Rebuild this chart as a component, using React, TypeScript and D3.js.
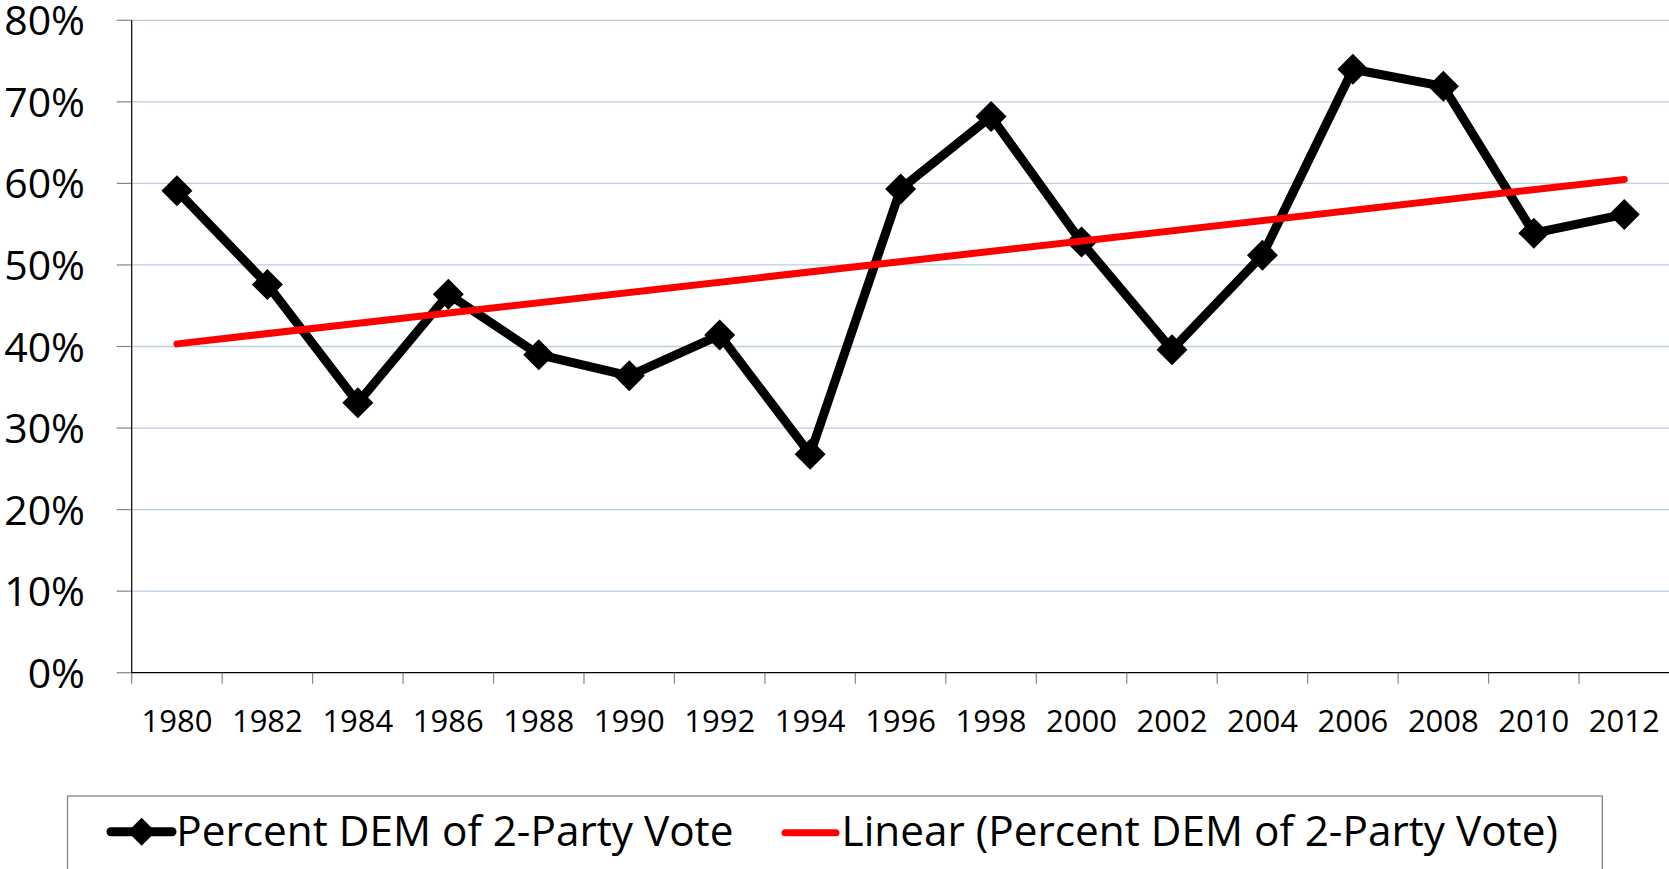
import React from "react";
import * as d3 from "d3";

const years = ["1980","1982","1984","1986","1988","1990","1992","1994","1996","1998","2000","2002","2004","2006","2008","2010","2012"];
const demShare = [59.1, 47.6, 33.1, 46.4, 39.0, 36.4, 41.4, 26.8, 59.3, 68.2, 52.8, 39.6, 51.2, 74.0, 71.9, 53.9, 56.2];
const yTicks = [0, 10, 20, 30, 40, 50, 60, 70, 80];
const seriesName = "Percent DEM of 2-Party Vote";
const trendName = "Linear (Percent DEM of 2-Party Vote)";

const W = 1669, H = 869;
const FONT = "'Open Sans', 'Noto Sans', sans-serif";

export default function App() {
  const x = d3.scaleBand<string>().domain(years).range([131.7, 1669.5]).padding(0);
  const y = d3.scaleLinear().domain([0, 80]).range([672.7, 20.3]);
  const cx = (yr: string) => (x(yr) as number) + x.bandwidth() / 2;

  // least-squares linear trend
  const idx = years.map((_, i) => i + 1);
  const mx = d3.mean(idx) as number;
  const my = d3.mean(demShare) as number;
  const sxy = d3.sum(idx, (v, i) => (v - mx) * (demShare[i] - my));
  const sxx = d3.sum(idx, (v) => (v - mx) ** 2);
  const slope = sxy / sxx;
  const intercept = my - slope * mx;
  const trendStart = intercept + slope * idx[0];
  const trendEnd = intercept + slope * idx[idx.length - 1];

  const line = d3.line<number>().x((_, i) => cx(years[i])).y((d) => y(d));
  const diamond = (px: number, py: number, r: number) =>
    `M${px},${py - r}L${px + r},${py}L${px},${py + r}L${px - r},${py}Z`;

  const x0 = 131.7;
  const y0 = y(0);

  return (
    <svg width={W} height={H} style={{ position: "absolute", left: 0, top: 0, display: "block", background: "#fff" }}
      fontFamily={FONT}>
      {/* gridlines */}
      {yTicks.filter((t) => t > 0).map((t) => (
        <line key={"g" + t} x1={x0} x2={W} y1={y(t)} y2={y(t)} stroke="#B9CDE5" strokeWidth={1.3} />
      ))}
      {/* y tick marks */}
      {yTicks.map((t) => (
        <line key={"yt" + t} x1={116.7} x2={x0} y1={y(t)} y2={y(t)} stroke="#868686" strokeWidth={1.2} />
      ))}
      {/* y labels */}
      {yTicks.map((t) => (
        <text key={"yl" + t} x={85} y={y(t) + 15} textAnchor="end" fontSize={41} fill="#000">
          {t + "%"}
        </text>
      ))}
      {/* x tick marks */}
      {years.map((yr) => (
        <line key={"xt" + yr} x1={x(yr) as number} x2={x(yr) as number} y1={y0} y2={y0 + 11} stroke="#868686" strokeWidth={1.2} />
      ))}
      {/* axes */}
      <line x1={x0} x2={x0} y1={y(80)} y2={y0} stroke="#000" strokeWidth={1.2} />
      <line x1={x0} x2={W} y1={y0} y2={y0} stroke="#000" strokeWidth={1.2} />
      {/* x labels */}
      {years.map((yr) => (
        <text key={"xl" + yr} x={cx(yr)} y={731.7} textAnchor="middle" fontSize={31} fill="#000">
          {yr}
        </text>
      ))}
      {/* data line */}
      <path d={line(demShare) as string} fill="none" stroke="#000" strokeWidth={9} strokeLinejoin="round" />
      {demShare.map((v, i) => (
        <path key={"m" + i} d={diamond(cx(years[i]), y(v), 15.5)} fill="#000" />
      ))}
      {/* trend line */}
      <line x1={cx(years[0])} x2={cx(years[years.length - 1])} y1={y(trendStart)} y2={y(trendEnd)}
        stroke="#FF0000" strokeWidth={7} strokeLinecap="round" />
      {/* legend */}
      <rect x={67.5} y={796} width={1602.3 - 67.5} height={H - 796 + 10} fill="#fff" stroke="#868686" strokeWidth={1.3} />
      <line x1={111} x2={172} y1={831.7} y2={831.7} stroke="#000" strokeWidth={9} strokeLinecap="round" />
      <path d={diamond(141.6, 831.7, 14)} fill="#000" />
      <text x={176.3} y={846} fontSize={42.3} fill="#000">{seriesName}</text>
      <line x1={785} x2={836} y1={832.7} y2={832.7} stroke="#FF0000" strokeWidth={7} strokeLinecap="round" />
      <text x={841.6} y={846} fontSize={42.3} fill="#000">{trendName}</text>
    </svg>
  );
}
